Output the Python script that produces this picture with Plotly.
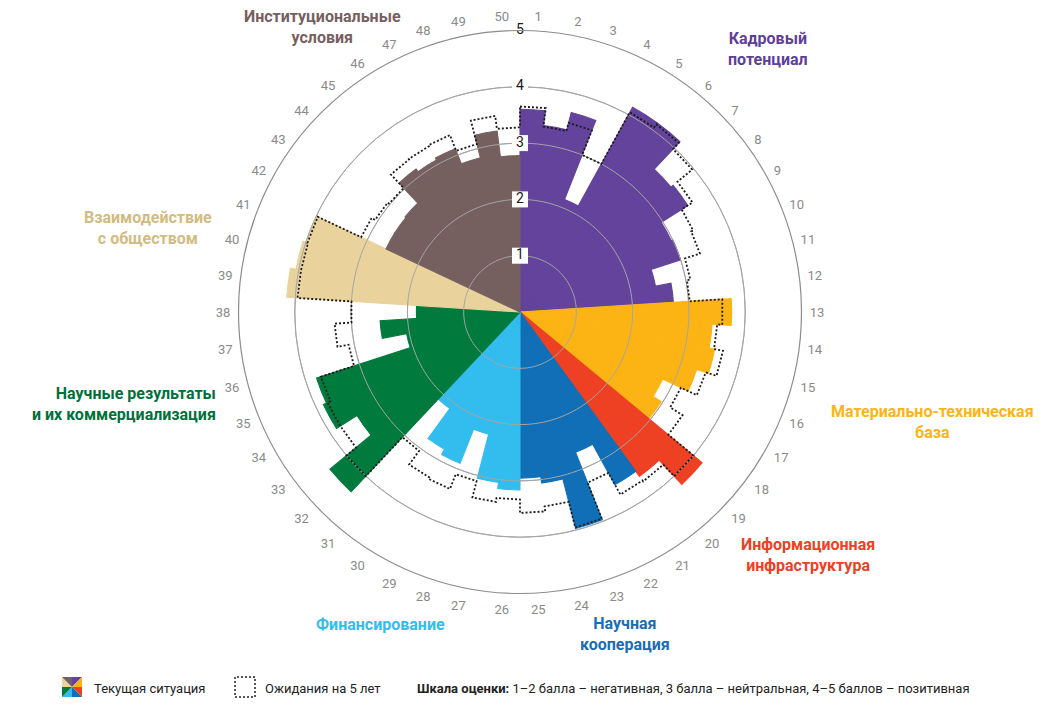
import plotly.graph_objects as go

# ---------------- data ----------------
sector_labels = [str(i) for i in range(1, 51)]

current = [
    3.60, 3.34, 3.66, 2.15, 4.15, 4.15, 3.48, 3.53, 2.97, 3.00, 2.45, 2.73,   # 1-12
    3.76, 3.42, 3.52, 3.30, 2.80, 2.97,                                       # 13-18
    4.20, 3.61,                                                               # 19-20
    3.50, 2.68, 3.97, 3.06, 2.95,                                             # 21-25
    3.16, 3.05, 2.24, 2.89, 2.78, 2.12,                                       # 26-31
    4.38, 3.43, 3.86, 3.80, 2.05, 2.49, 1.84,                                 # 32-38
    4.15, 4.05, 4.00,                                                         # 39-41
    2.63, 2.63, 2.65, 3.14, 3.08, 3.12, 2.83, 3.24, 2.78,                     # 42-50
]

expected = [
    3.65, 3.32, 3.47, 3.00, 4.05, 4.12, 3.97, 3.63, 3.40, 3.36, 3.08, 3.02,
    3.60, 3.51, 3.67, 3.47, 3.16, 3.42,
    4.00, 3.72,
    3.70, 3.26, 3.95, 3.48, 3.57,
    3.33, 3.40, 3.10, 3.38, 3.35, 3.05,
    4.00, 3.78, 3.78, 3.72, 3.10, 3.30, 3.00,
    3.96, 3.96, 3.97,
    3.12, 3.05, 3.02, 3.35, 3.36, 3.38, 3.08, 3.51, 3.28,
]

group_names = [
    "Кадровый<br>потенциал",
    "Материально-техническая<br>база",
    "Информационная<br>инфраструктура",
    "Научная<br>кооперация",
    "Финансирование",
    "Научные результаты<br>и их коммерциализация",
    "Взаимодействие<br>с обществом",
    "Институциональные<br>условия",
]
group_sizes = [12, 6, 2, 5, 6, 7, 3, 9]
group_colors = ["#63439b", "#fcb415", "#ee4123", "#106fb6",
                "#33bcee", "#007a3d", "#e9d29b", "#76605f"]
label_colors = ["#5f3f98", "#fcb415", "#ee4123", "#1a6db3",
                "#33bcee", "#00703b", "#d2bb82", "#76605f"]

scale_ticks = [1, 2, 3, 4, 5]

# ---------------- derived ----------------
n = len(sector_labels)
step = 360.0 / n
centers = [(i + 0.5) * step for i in range(n)]
bar_colors = [c for c, s in zip(group_colors, group_sizes) for _ in range(s)]

out_th, out_r = [], []
for i, v in enumerate(expected):
    out_th += [i * step, (i + 1) * step]
    out_r += [v, v]
out_th.append(out_th[0])
out_r.append(out_r[0])

FONT = "Roboto, Liberation Sans, sans-serif"

W, H = 1041, 709
OFF = 8  # page body margin


def X(px):
    return (px - OFF) / W


def Y(py):
    return 1 - (py - OFF) / H


fig = go.Figure()

fig.add_trace(go.Barpolar(
    r=current, theta=centers, width=[step] * n,
    marker=dict(color=bar_colors, line=dict(width=1.1, color=bar_colors)),
    hoverinfo="skip", showlegend=False,
))

circ_th = [k * 2 for k in range(181)]
for t in scale_ticks[:-1]:
    fig.add_trace(go.Scatterpolar(
        r=[t] * len(circ_th), theta=circ_th, mode="lines",
        line=dict(color="rgba(165,165,165,1)", width=1),
        hoverinfo="skip", showlegend=False,
    ))

fig.add_trace(go.Scatterpolar(
    r=out_r, theta=out_th, mode="lines",
    line=dict(color="#1a1a1a", width=1.8, dash="2px,2px"),
    hoverinfo="skip", showlegend=False,
))

fig.add_trace(go.Scatterpolar(
    r=scale_ticks, theta=[0] * len(scale_ticks), mode="markers+text",
    marker=dict(symbol="square", size=16, color="white", line=dict(width=0)),
    text=[str(t) for t in scale_ticks], textposition="middle center",
    textfont=dict(size=14, color="#1a1a1a", family=FONT),
    hoverinfo="skip", showlegend=False,
))

cx, cy, R = 520, 312, 281.5
fig.update_layout(
    width=W, height=H,
    margin=dict(l=0, r=0, t=0, b=0),
    paper_bgcolor="white",
    showlegend=False,
    polar=dict(
        domain=dict(x=[X(cx - R), X(cx + R)], y=[Y(cy + R), Y(cy - R)]),
        bgcolor="white",
        radialaxis=dict(range=[0, 5], tickvals=scale_ticks, showticklabels=False,
                        ticks="", showline=False, gridcolor="#a5a5a5", gridwidth=1),
        angularaxis=dict(rotation=90, direction="clockwise",
                         tickvals=centers, ticktext=sector_labels,
                         ticks="outside", ticklen=5, tickcolor="rgba(0,0,0,0)",
                         showgrid=False, showline=True, linecolor="#8c8c8c",
                         linewidth=1.2,
                         tickfont=dict(size=13, color="#8a8a8a", family=FONT)),
    ),
)

label_pos = [
    (768, 49, "center"),
    (932, 422, "center"),
    (808, 555, "center"),
    (625, 634, "center"),
    (380, 624, "center"),
    (218, 404, "right"),
    (148, 228, "center"),
    (322, 27, "center"),
]
for name, col, (x, y, anc) in zip(group_names, label_colors, label_pos):
    fig.add_annotation(
        text="<b>%s</b>" % name, x=X(x), y=Y(y), xref="paper", yref="paper",
        xanchor=anc, yanchor="middle", align=anc, showarrow=False,
        font=dict(size=16, color=col, family=FONT),
    )

# legend: pinwheel icon
ix0, iy0, isz = 62, 677, 20
icx, icy = ix0 + isz / 2, iy0 + isz / 2
edge = [(icx, iy0), (ix0 + isz, iy0), (ix0 + isz, icy), (ix0 + isz, iy0 + isz),
        (icx, iy0 + isz), (ix0, iy0 + isz), (ix0, icy), (ix0, iy0)]
for k, col in enumerate(group_colors):
    p1, p2 = edge[k], edge[(k + 1) % 8]
    pts = [(icx, icy), p1, p2]
    path = "M " + " L ".join("%f,%f" % (X(px), Y(py)) for px, py in pts) + " Z"
    fig.add_shape(type="path", path=path, xref="paper", yref="paper",
                  fillcolor=col, line=dict(width=0))

fig.add_shape(type="rect", xref="paper", yref="paper",
              x0=X(235), x1=X(255), y0=Y(697), y1=Y(677),
              line=dict(color="#222", width=1.5, dash="2px,2px"), fillcolor="rgba(0,0,0,0)")

legend_texts = [
    (92, "Текущая ситуация"),
    (263, "Ожидания на 5 лет"),
    (415, "<b>Шкала оценки:</b> 1–2 балла – негативная, 3 балла – нейтральная, 4–5 баллов – позитивная"),
]
for x, t in legend_texts:
    fig.add_annotation(text=t, x=X(x), y=Y(688), xref="paper", yref="paper",
                       xanchor="left", yanchor="middle", showarrow=False,
                       font=dict(size=13, color="#222", family=FONT))

fig.write_html("out.html")
